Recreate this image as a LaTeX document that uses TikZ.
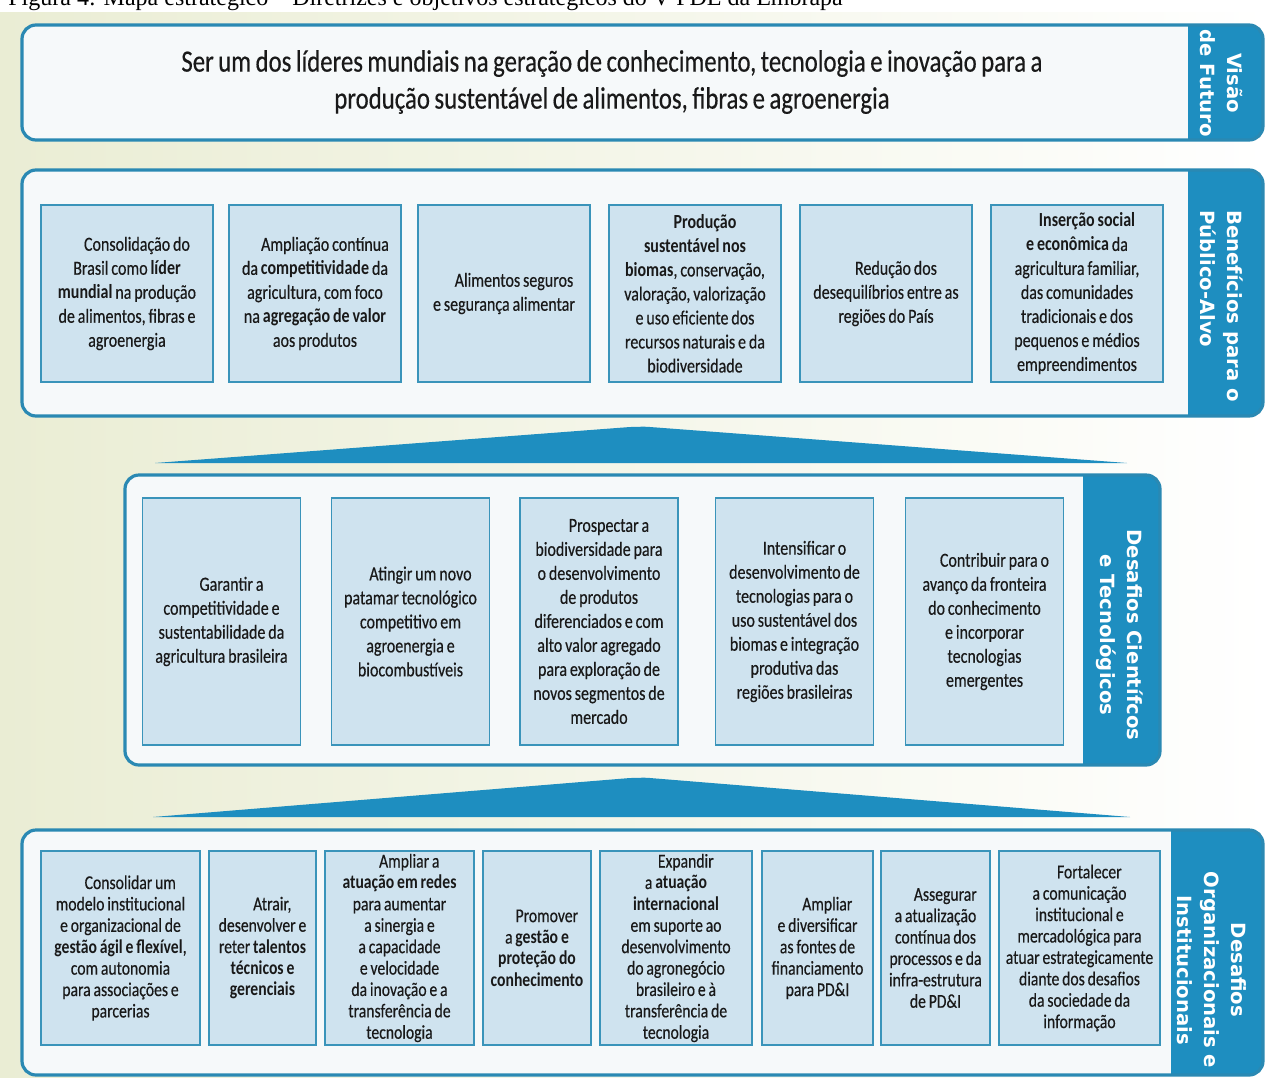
\documentclass[tikz,border=0pt]{standalone}
\usepackage{fontspec}
\setmainfont{Carlito}[FakeStretch=0.8, WordSpace=0.8, UprightFeatures={FakeBold=0.4}]
\newfontfamily\tabfont{DejaVu Sans}
\newfontfamily\capfont{Liberation Serif}

\definecolor{tabblue}{HTML}{1E8EC0}
\definecolor{panelline}{HTML}{2A89B3}
\definecolor{boxfill}{HTML}{CFE3EF}
\definecolor{boxline}{HTML}{3A94BA}
\definecolor{panelbg}{HTML}{F6F9FA}
\definecolor{bgleft}{HTML}{EAEDD4}

\tikzset{
  goal/.style={draw=boxline, fill=boxfill, line width=0.7pt, align=flush center, text=black!90, inner sep=0pt,
    execute at begin node={\hspace*{1em}}},
  goaltop/.style={goal, minimum width=86pt, minimum height=88.5pt, text width=84pt, font=\fontsize{10}{12}\selectfont},
  goalmid/.style={goal, minimum width=79pt, minimum height=123.5pt, text width=77pt, font=\fontsize{10}{12}\selectfont},
  goalbot/.style={goal, minimum width=#1, text width=#1, minimum height=97pt, font=\fontsize{9.8}{10.7}\selectfont},
  tabtext/.style={text=white, rotate=-90, align=center, inner sep=0pt, font=\tabfont\bfseries\fontsize{9.8}{13.5}\selectfont},
}

% x1 y1 x2 y2 tab
\def\mappanel#1#2#3#4#5{%
  \fill[panelbg, rounded corners=7pt] (#1,#2) rectangle (#3,#4);
  \begin{scope}
    \clip[rounded corners=7pt] (#1,#2) rectangle (#3,#4);
    \fill[tabblue] (#5,#2) rectangle (#3,#4);
  \end{scope}
  \draw[panelline, line width=1.6pt, rounded corners=7pt] (#1,#2) rectangle (#3,#4);
}

\begin{document}
\begin{tikzpicture}[x=0.5pt, y=-0.5pt]
\useasboundingbox (0,0) rectangle (1269,1077);
\clip (0,0) rectangle (1269,1077);

\shade[left color=bgleft, right color=white] (0,0) rectangle (1269,1077);
\fill[white] (0,0) rectangle (1269,12);
\node[anchor=base west, inner sep=0pt, font=\capfont\fontsize{12}{14}\selectfont] (caption) at (8,5)
  {Figura 4: Mapa estratégico – Diretrizes e objetivos estratégicos do V PDE da Embrapa};

\mappanel{22}{25}{1263}{140}{1188}
\mappanel{22}{170}{1263}{416}{1188}
\mappanel{125}{475}{1160}{765}{1083}
\mappanel{22}{830}{1263}{1075}{1171}

% setas
\fill[tabblue] (155,463) -- (630,427) to[out=0,in=175] (650,427) -- (1127,463) -- cycle;
\fill[tabblue] (153,817) -- (630,778) to[out=0,in=175] (650,778) -- (1130,817) -- cycle;

% visao
\node[align=center, text=black!90, inner sep=0pt, font=\fontsize{15.5}{18.5}\selectfont] (visao) at (612,82)
  {Ser um dos líderes mundiais na geração de conhecimento, tecnologia e inovação para a\\
   produção sustentável de alimentos, fibras e agroenergia};
\node[tabtext] (tabA) at (1221,83) {Visão\\de Futuro};

% beneficios
\node[goaltop] (b1) at (127,293.5) {Consolidação do\\Brasil como \textbf{líder}\\\textbf{mundial} na produção\\de alimentos, fibras e\\agroenergia};
\node[goaltop] (b2) at (315,293.5) {Ampliação contínua\\da \textbf{competitividade} da\\agricultura, com foco\\na \textbf{agregação de valor}\\aos produtos};
\node[goaltop] (b3) at (504,293.5) {Alimentos seguros\\e segurança alimentar};
\node[goaltop] (b4) at (695,293.5) {\textbf{Produção}\\\textbf{sustentável nos}\\\textbf{biomas}, conservação,\\valoração, valorização\\e uso eficiente dos\\recursos naturais e da\\biodiversidade};
\node[goaltop] (b5) at (886,293.5) {Redução dos\\desequilíbrios entre as\\regiões do País};
\node[goaltop] (b6) at (1077,293.5) {\textbf{Inserção social}\\\textbf{e econômica} da\\agricultura familiar,\\das comunidades\\tradicionais e dos\\pequenos e médios\\empreendimentos};
\node[tabtext, align=left] (tabB) at (1222,306) {Benefícios para o\\Público-Alvo};

% desafios cientificos
\node[goalmid] (d1) at (221.5,621.5) {Garantir a\\competitividade e\\sustentabilidade da\\agricultura brasileira};
\node[goalmid] (d2) at (410.5,621.5) {Atingir um novo\\patamar tecnológico\\competitivo em\\agroenergia e\\biocombustíveis};
\node[goalmid] (d3) at (599,621.5) {Prospectar a\\biodiversidade para\\o desenvolvimento\\de produtos\\diferenciados e com\\alto valor agregado\\para exploração de\\novos segmentos de\\mercado};
\node[goalmid] (d4) at (794.5,621.5) {Intensificar o\\desenvolvimento de\\tecnologias para o\\uso sustentável dos\\biomas e integração\\produtiva das\\regiões brasileiras};
\node[goalmid] (d5) at (984.5,621.5) {Contribuir para o\\avanço da fronteira\\do conhecimento\\e incorporar\\tecnologias\\emergentes};
\node[tabtext] (tabC) at (1120,635) {Desafios Científcos\\e Tecnológicos};

% desafios organizacionais
\node[goalbot=79.5pt] (o1) at (120.5,948) {Consolidar um\\modelo institucional\\e organizacional de\\\textbf{gestão ágil e flexível},\\com autonomia\\para associações e\\parcerias};
\node[goalbot=53.5pt] (o2) at (262.5,948) {Atrair,\\desenvolver e\\reter \textbf{talentos}\\\textbf{técnicos e}\\\textbf{gerenciais}};
\node[goalbot=74.5pt] (o3) at (399.5,948) {Ampliar a\\\textbf{atuação em redes}\\para aumentar\\a sinergia e\\a capacidade\\e velocidade\\da inovação e a\\transferência de\\tecnologia};
\node[goalbot=54pt] (o4) at (537,948) {Promover\\a \textbf{gestão e}\\\textbf{proteção do}\\\textbf{conhecimento}};
\node[goalbot=76pt] (o5) at (676,948) {Expandir\\a \textbf{atuação}\\\textbf{internacional}\\em suporte ao\\desenvolvimento\\do agronegócio\\brasileiro e à\\transferência de\\tecnologia};
\node[goalbot=55.5pt] (o6) at (817.5,948) {Ampliar\\e diversificar\\as fontes de\\financiamento\\para PD\&I};
\node[goalbot=54.5pt] (o7) at (935.5,948) {Assegurar\\a atualização\\contínua dos\\processos e da\\infra-estrutura\\de PD\&I};
\node[goalbot=80.5pt] (o8) at (1079.5,948) {Fortalecer\\a comunicação\\institucional e\\mercadológica para\\atuar estrategicamente\\diante dos desafios\\da sociedade da\\informação};
\node[tabtext] (tabD) at (1212,970) {Desafios\\Organizacionais e\\Institucionais};

\end{tikzpicture}
\end{document}
